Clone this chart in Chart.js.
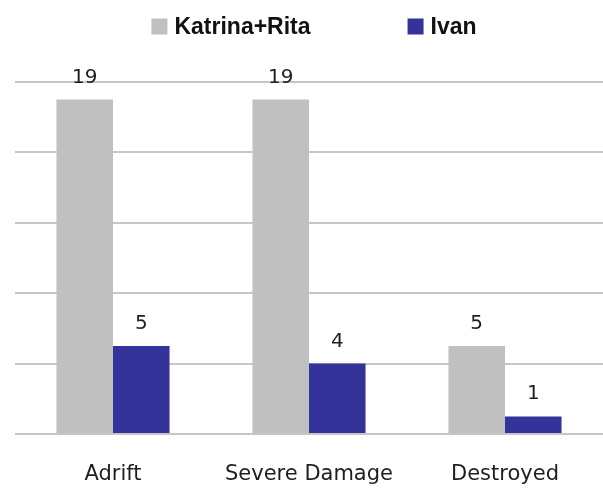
<!DOCTYPE html>
<html>
<head>
<meta charset="utf-8">
<script src="https://cdn.jsdelivr.net/npm/chart.js@4/dist/chart.umd.min.js"></script>
<style>
  html, body { margin: 0; padding: 0; background: #ffffff; }
  #wrap { width: 603px; height: 492px; position: relative; }
</style>
</head>
<body>
<div id="wrap"><canvas id="chart"></canvas></div>
<script>
// Vessel outcomes per hurricane season
const categories = ['Adrift', 'Severe Damage', 'Destroyed'];
const katrinaRita = [19, 19, 5];
const ivan = [5, 4, 1];
const seriesNames = ['Katrina+Rita', 'Ivan'];
const seriesColors = ['#c0c0c0', '#333399'];
const yMax = 20;
const yStep = 4;

// Value printed above each bar
const barValueLabels = {
  id: 'barValueLabels',
  afterDatasetsDraw(chart) {
    const ctx = chart.ctx;
    ctx.save();
    ctx.font = '20px "DejaVu Sans"';
    ctx.fillStyle = '#1e1e1e';
    ctx.textAlign = 'center';
    ctx.textBaseline = 'alphabetic';
    chart.data.datasets.forEach((ds, i) => {
      chart.getDatasetMeta(i).data.forEach((bar, j) => {
        ctx.fillText(String(ds.data[j]), bar.x, bar.y - 17);
      });
    });
    ctx.restore();
  }
};

// Legend row across the top: square swatch followed by bold series name
const topLegend = {
  id: 'topLegend',
  afterDraw(chart) {
    const ctx = chart.ctx;
    const box = 16, textGap = 7, itemGap = 97, centerX = 314, midY = 26.5;
    ctx.save();
    ctx.font = 'bold 23px "Liberation Sans", Arial, sans-serif';
    ctx.textBaseline = 'middle';
    ctx.textAlign = 'left';
    const items = chart.data.datasets.map(ds => ({
      label: ds.label,
      color: ds.backgroundColor,
      w: ctx.measureText(ds.label).width
    }));
    let total = 0;
    items.forEach((it, i) => { total += box + textGap + it.w + (i < items.length - 1 ? itemGap : 0); });
    let x = centerX - total / 2;
    items.forEach(it => {
      ctx.fillStyle = it.color;
      ctx.fillRect(x, midY - box / 2, box, box);
      x += box + textGap;
      ctx.fillStyle = '#111111';
      ctx.fillText(it.label, x, midY + 1);
      x += it.w + itemGap;
    });
    ctx.restore();
  }
};

new Chart(document.getElementById('chart'), {
  type: 'bar',
  data: {
    labels: categories,
    datasets: [
      { label: seriesNames[0], data: katrinaRita, backgroundColor: seriesColors[0] },
      { label: seriesNames[1], data: ivan, backgroundColor: seriesColors[1] }
    ]
  },
  options: {
    responsive: true,
    maintainAspectRatio: false,
    animation: false,
    layout: { padding: { top: 82, left: 15, right: 0, bottom: 0 } },
    datasets: {
      bar: { categoryPercentage: 0.577, barPercentage: 1.0, borderWidth: 0 }
    },
    plugins: {
      legend: { display: false },
      tooltip: { enabled: false }
    },
    scales: {
      x: {
        offset: true,
        grid: { display: false, drawTicks: false },
        border: { display: false },
        ticks: {
          padding: 28,
          color: '#1e1e1e',
          font: { family: '"DejaVu Sans"', size: 21 }
        },
        afterFit(scale) { scale.height = 58; }
      },
      y: {
        min: 0,
        max: yMax,
        ticks: { display: false, stepSize: yStep },
        grid: { color: '#c6c6c6', lineWidth: 2, drawTicks: false },
        border: { display: false }
      }
    }
  },
  plugins: [barValueLabels, topLegend]
});
</script>
</body>
</html>
